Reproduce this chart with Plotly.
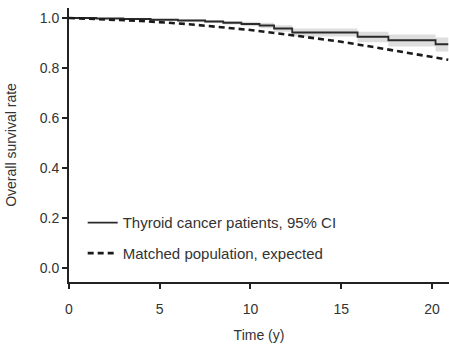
import plotly.graph_objects as go

# Kaplan-Meier estimate for thyroid cancer patients (step function)
km_time = [0, 1.5, 3.0, 4.5, 6.0, 7.5, 8.5, 9.5, 10.5, 11.3, 12.3, 15.9, 17.6, 20.2, 20.9]
km_surv = [1.0, 0.998, 0.996, 0.993, 0.990, 0.986, 0.981, 0.976, 0.970, 0.958, 0.942, 0.925, 0.911, 0.895, 0.895]
ci_low = [1.0, 0.997, 0.994, 0.990, 0.986, 0.980, 0.974, 0.967, 0.959, 0.945, 0.926, 0.903, 0.886, 0.866, 0.860]
ci_high = [1.0, 0.999, 0.998, 0.996, 0.994, 0.991, 0.988, 0.985, 0.981, 0.971, 0.958, 0.945, 0.934, 0.922, 0.924]

# Expected survival of the matched general population
exp_time = [0, 2, 4, 6.5, 8, 10, 12, 13.5, 15, 17.5, 20, 20.9]
exp_surv = [1.0, 0.995, 0.988, 0.976, 0.966, 0.952, 0.934, 0.920, 0.905, 0.875, 0.845, 0.833]

x_ticks = [0, 5, 10, 15, 20]
y_ticks = [0.0, 0.2, 0.4, 0.6, 0.8, 1.0]

fig = go.Figure()

fig.add_trace(go.Scatter(
    x=km_time, y=ci_low, mode="lines", line=dict(width=0, shape="hv"),
    showlegend=False, hoverinfo="skip"))
fig.add_trace(go.Scatter(
    x=km_time, y=ci_high, mode="lines", line=dict(width=0, shape="hv"),
    fill="tonexty", fillcolor="#dedede",
    showlegend=False, hoverinfo="skip"))

fig.add_trace(go.Scatter(
    x=km_time, y=km_surv, mode="lines",
    line=dict(color="#2a2a2a", width=1.8, shape="hv"),
    name="Thyroid cancer patients, 95% CI", legendgroup="a"))
fig.add_trace(go.Scatter(
    x=exp_time, y=exp_surv, mode="lines",
    line=dict(color="#1a1a1a", width=2.6, dash="6px,4px"),
    name="Matched population, expected", legendgroup="b"))

base_font = dict(family="Liberation Sans, Arial, sans-serif", size=14, color="#333333")

fig.update_layout(
    width=449, height=352,
    margin=dict(l=69, r=0, t=8, b=70),
    paper_bgcolor="white", plot_bgcolor="white",
    font=base_font,
    legend=dict(x=0.036, y=0.276, xanchor="left", yanchor="top",
                bgcolor="rgba(0,0,0,0)", tracegroupgap=8,
                itemwidth=30, font=dict(size=15, color="#333333")),
    xaxis=dict(range=[0, 20.94], tickvals=x_ticks, ticks="outside", ticklen=5,
               tickwidth=2, tickcolor="#222", showline=True, linewidth=2,
               linecolor="#222", showgrid=False, zeroline=False,
               ticklabelstandoff=8, tickfont=dict(size=14),
               title=dict(text="Time (y)", standoff=14, font=dict(size=14))),
    yaxis=dict(range=[-0.056, 1.04], tickvals=y_ticks, tickformat=".1f",
               ticks="outside", ticklen=5, tickwidth=2, tickcolor="#222",
               showline=True, linewidth=2, linecolor="#222", showgrid=False,
               zeroline=False, tickfont=dict(size=14),
               title=dict(text="Overall survival rate", standoff=20, font=dict(size=14))),
)

fig.write_html("out.html")
